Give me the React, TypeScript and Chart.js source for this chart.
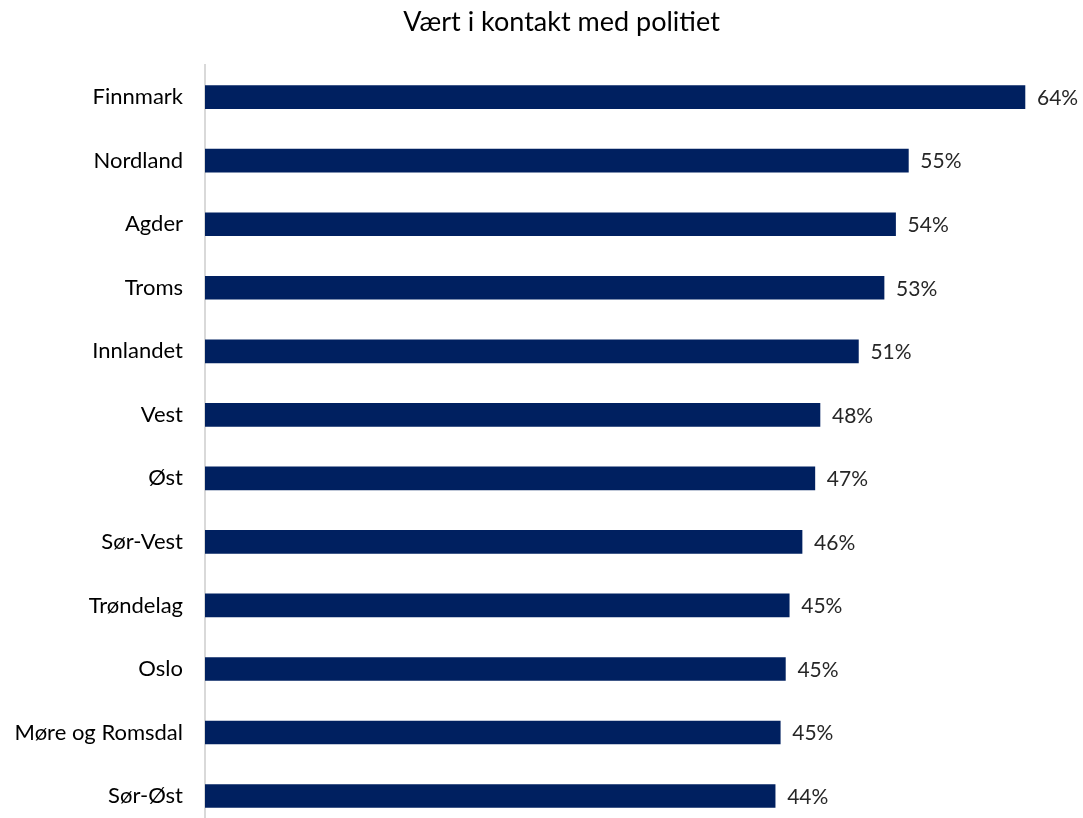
import { useEffect, useRef } from "react";
import { Chart, registerables } from "chart.js";

Chart.register(...registerables);

const titleText = "Vært i kontakt med politiet";
const categories = [
  "Finnmark",
  "Nordland",
  "Agder",
  "Troms",
  "Innlandet",
  "Vest",
  "Øst",
  "Sør-Vest",
  "Trøndelag",
  "Oslo",
  "Møre og Romsdal",
  "Sør-Øst",
];
const values = [64.0, 54.9, 53.9, 53.0, 51.0, 48.0, 47.6, 46.6, 45.6, 45.3, 44.9, 44.5];
const valueLabels = ["64%", "55%", "54%", "53%", "51%", "48%", "47%", "46%", "45%", "45%", "45%", "44%"];
const axisMax = 68.53;

const FONT = "Lato, 'Open Sans', sans-serif";

const dataLabelPlugin = {
  id: "barValueLabels",
  afterDatasetsDraw(chart: any) {
    const ctx = chart.ctx;
    const meta = chart.getDatasetMeta(0);
    ctx.save();
    ctx.font = `21px ${FONT}`;
    ctx.fillStyle = "#262626";
    ctx.textAlign = "left";
    ctx.textBaseline = "middle";
    meta.data.forEach((bar: any, i: number) => {
      ctx.fillText(valueLabels[i], bar.x + 12, bar.y + 1);
    });
    ctx.restore();
  },
};

export default function App() {
  const ref = useRef<HTMLCanvasElement | null>(null);

  useEffect(() => {
    if (!ref.current) return;
    const chart = new Chart(ref.current, {
      type: "bar",
      data: {
        labels: categories,
        datasets: [
          {
            data: values,
            backgroundColor: "#002060",
            borderWidth: 0,
            barThickness: 23,
          },
        ],
      },
      options: {
        indexAxis: "y",
        responsive: false,
        animation: false,
        layout: { padding: { top: 0, right: -40, bottom: 1, left: 0 } },
        plugins: {
          legend: { display: false },
          tooltip: { enabled: false },
          title: {
            display: true,
            text: titleText,
            color: "#000000",
            font: { family: FONT, size: 27, weight: "normal" },
            padding: { top: 6, bottom: 27 },
          },
        },
        scales: {
          x: {
            display: false,
            min: 0,
            max: axisMax,
          },
          y: {
            afterFit: (s: any) => {
              s.width = 205;
            },
            grid: { display: false, drawTicks: false },
            border: { display: true, color: "#d9d9d9", width: 2 },
            ticks: {
              color: "#000000",
              padding: 22,
              font: { family: FONT, size: 22 },
            },
          },
        },
      },
      plugins: [dataLabelPlugin],
    });
    return () => chart.destroy();
  }, []);

  return (
    <div
      style={{
        position: "fixed",
        top: 0,
        left: 0,
        width: 1083,
        height: 818,
        overflow: "hidden",
        background: "#ffffff",
      }}
    >
      <canvas ref={ref} width={1083} height={863} style={{ display: "block" }} />
    </div>
  );
}
